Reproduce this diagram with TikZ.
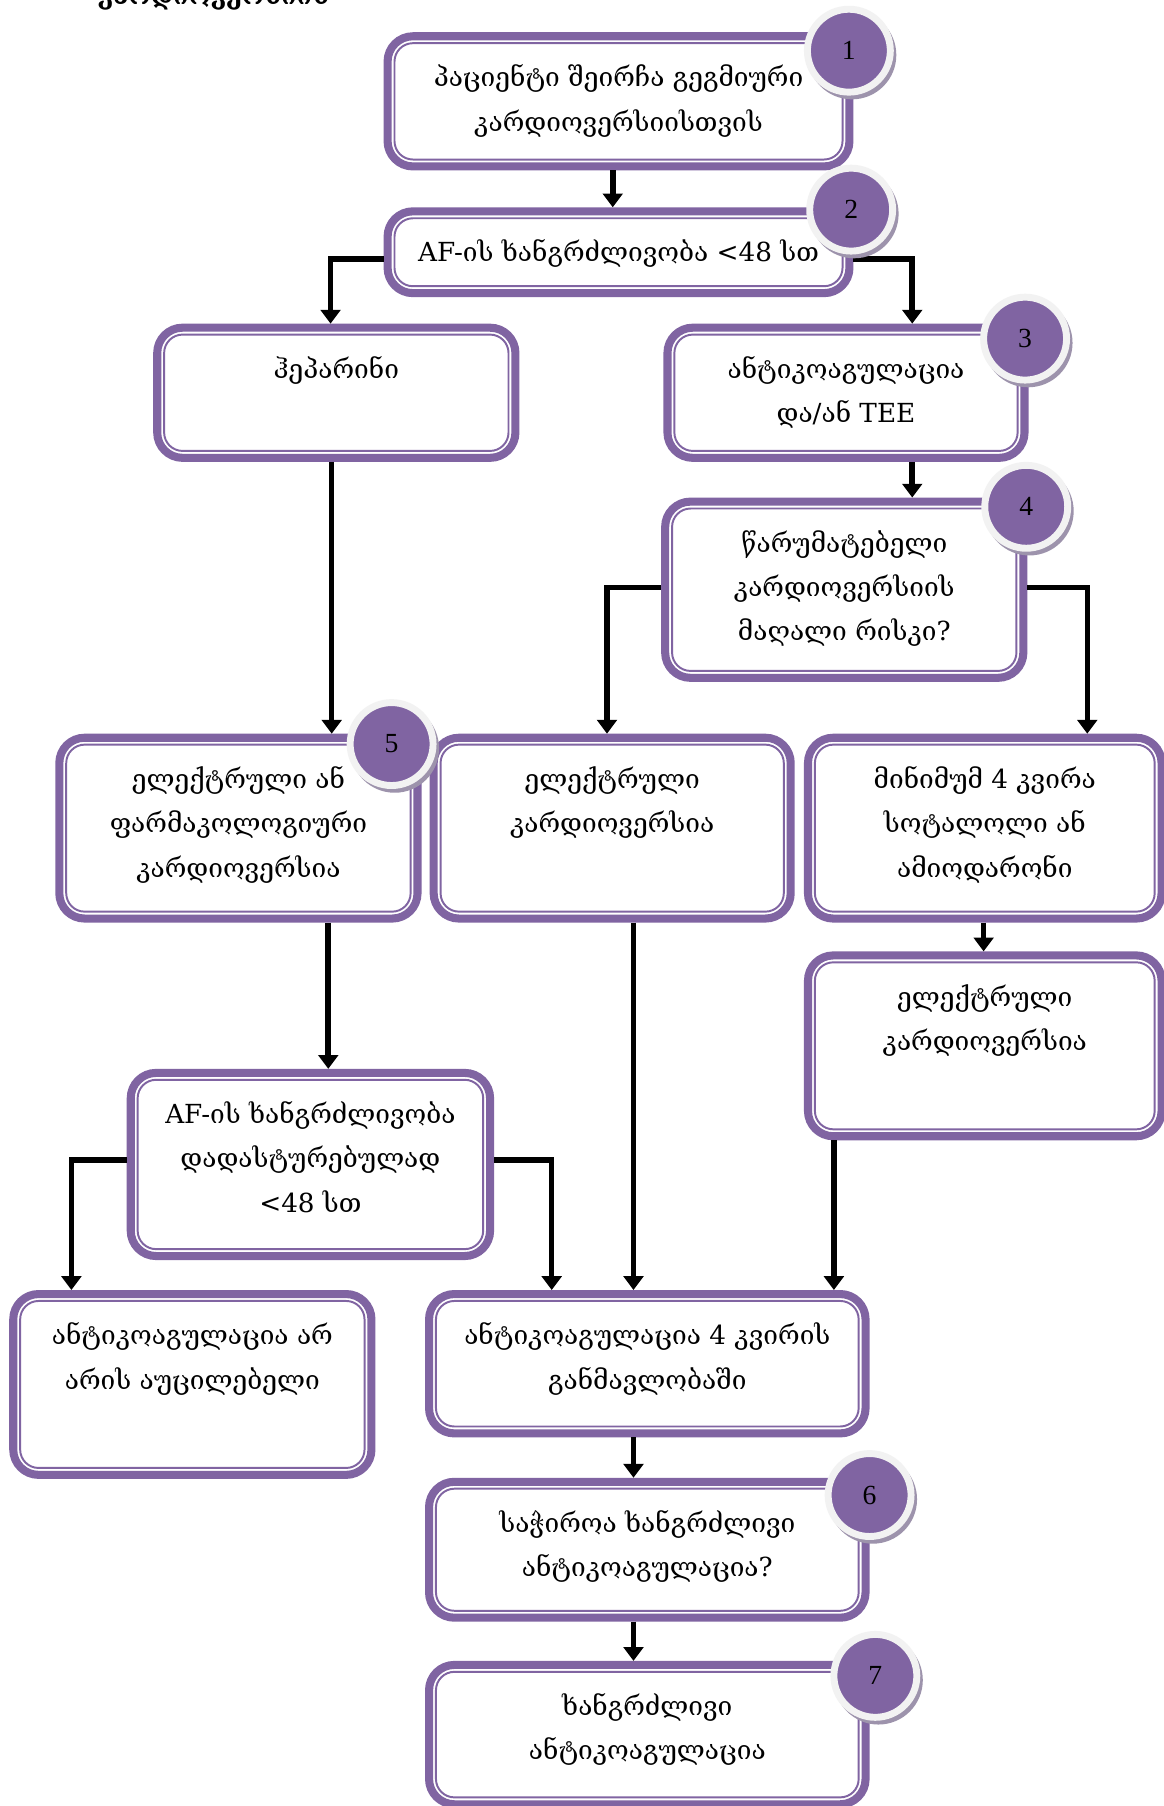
\documentclass[tikz,border=0pt]{standalone}
\usepackage{fontspec}
\setmainfont{DejaVu Serif}
\newfontfamily\numfont{Liberation Serif}
\usetikzlibrary{arrows.meta,shadows}
\definecolor{pur}{HTML}{8064A2}
\definecolor{ringc}{HTML}{F2F2F2}
\definecolor{shadc}{HTML}{9D93AC}
\newcommand\bxfont{\fontsize{22.8}{38.5}\selectfont}
\tikzset{
  gbox/.style={draw=pur, line width=7pt, rounded corners=22pt, fill=white, inner sep=0pt,
    font=\bxfont,
    path picture={\draw[pur, line width=1.7pt, rounded corners=16pt]
      ([shift={(6pt,-6pt)}]path picture bounding box.north west) rectangle
      ([shift={(-6pt,6pt)}]path picture bounding box.south east);}},
  numc/.style={circle, fill=pur, draw=ringc, line width=6pt, minimum size=72pt, inner sep=0pt,
    font=\numfont\fontsize{24}{24}\selectfont,
    drop shadow={shadow xshift=2.5pt, shadow yshift=-3.5pt, shadow scale=1.07, fill=shadc, opacity=1}},
  arr/.style={-{Triangle[length=12pt,width=17pt]}, line width=4.8pt, black},
}
\newcommand\gboxnode[6]{%
  \node[gbox] (#1) at (#2,#3) {\parbox[c][\dimexpr#5pt-7pt\relax][t]{\dimexpr#4pt-7pt\relax}{\centering\vspace*{17pt}\strut #6}};}
\begin{document}
\begin{tikzpicture}[x=1pt,y=-1pt]
\fill[white] (0,0) rectangle (1010,1568);
\useasboundingbox (0,0) rectangle (1010,1568);
% cut-off heading
\node[anchor=base west, inner sep=0pt, font=\bfseries\fontsize{22}{26}\selectfont] (title) at (85,4) {კარდიოვერსიის};
% boxes
\gboxnode{b1}{537}{88}{408}{120}{პაციენტი შეირჩა გეგმიური\\კარდიოვერსიისთვის}
\gboxnode{b2}{537}{219}{408}{78}{AF-ის ხანგრძლივობა <48 სთ}
\gboxnode{hep}{292}{341}{318}{120}{ჰეპარინი}
\gboxnode{b3}{734.5}{341}{317}{120}{ანტიკოაგულაცია\\და/ან TEE}
\gboxnode{b4}{733}{512}{318}{160}{წარუმატებელი\\კარდიოვერსიის\\მაღალი რისკი?}
\gboxnode{b5}{207}{719}{318}{164}{ელექტრული ან\\ფარმაკოლოგიური\\კარდიოვერსია}
\gboxnode{elec}{531.5}{719}{317}{164}{ელექტრული\\კარდიოვერსია}
\gboxnode{minb}{855}{719}{314}{164}{მინიმუმ 4 კვირა\\სოტალოლი ან\\ამიოდარონი}
\gboxnode{elec2}{855}{908}{314}{164}{ელექტრული\\კარდიოვერსია}
\gboxnode{af}{269.5}{1011}{319}{166}{AF-ის ხანგრძლივობა\\დადასტურებულად\\<48 სთ}
\gboxnode{noac}{167}{1202}{318}{164}{ანტიკოაგულაცია არ\\არის აუცილებელი}
\gboxnode{ac4}{562}{1184}{386}{128}{ანტიკოაგულაცია 4 კვირის\\განმავლობაში}
\gboxnode{b6}{562}{1345.5}{386}{125}{საჭიროა ხანგრძლივი\\ანტიკოაგულაცია?}
\gboxnode{b7}{562}{1506}{386}{128}{ხანგრძლივი\\ანტიკოაგულაცია}
% connectors
\draw[arr] ([xshift=-5pt]b1.south) -- ([xshift=-5pt]b1.south |- b2.north);
\draw[arr] ([yshift=-6pt]b2.west) -| ([xshift=-5pt]hep.north);
\draw[arr] ([yshift=-6pt]b2.east) -| ([xshift=57.5pt]b3.north);
\draw[arr] ([xshift=57.5pt]b3.south) -- ([xshift=57.5pt]b3.south |- b4.north);
\draw[arr] ([yshift=2pt]b4.west) -| ([xshift=-4.5pt]elec.north);
\draw[arr] ([yshift=2pt]b4.east) -| ([xshift=89pt]minb.north);
\draw[arr] ([xshift=-4pt]hep.south) -- ([xshift=-4pt]hep.south |- b5.north);
\draw[arr] ([xshift=78pt]b5.south) -- ([xshift=78pt]b5.south |- af.north);
\draw[arr] ([xshift=18.5pt]elec.south) -- ([xshift=18.5pt]elec.south |- ac4.north);
\draw[arr] ([xshift=-1pt]minb.south) -- ([xshift=-1pt]minb.south |- elec2.north);
\draw[arr] ([xshift=-131pt]elec2.south) -- ([xshift=-131pt]elec2.south |- ac4.north);
\draw[arr] ([yshift=4pt]af.west) -| ([xshift=-105pt]noac.north);
\draw[arr] ([yshift=4pt]af.east) -| ([xshift=-83pt]ac4.north);
\draw[arr] ([xshift=-12pt]ac4.south) -- ([xshift=-12pt]ac4.south |- b6.north);
\draw[arr] ([xshift=-12pt]b6.south) -- ([xshift=-12pt]b6.south |- b7.north);
% number badges
\node[numc] (n1) at (737,44) {1};
\node[numc] (n2) at (739,182) {2};
\node[numc] (n3) at (890,294) {3};
\node[numc] (n4) at (891,440) {4};
\node[numc] (n5) at (340,646) {5};
\node[numc] (n6) at (755,1298) {6};
\node[numc] (n7) at (760,1455) {7};
\end{tikzpicture}
\end{document}
